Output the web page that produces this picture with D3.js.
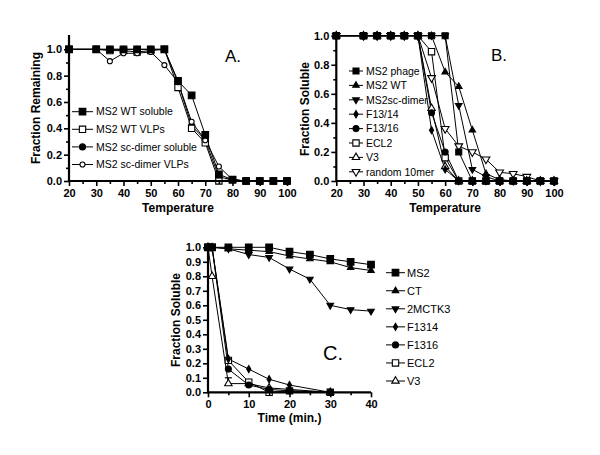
<!DOCTYPE html>
<html><head><meta charset="utf-8">
<script src="https://cdnjs.cloudflare.com/ajax/libs/d3/7.8.5/d3.min.js"></script>
<style>
html,body{margin:0;padding:0;background:#fff;}
svg{display:block;font-family:"Liberation Sans",Arial,sans-serif;}
</style></head>
<body>
<svg id="chart" width="600" height="455"></svg>
<script>
// ---------- Panel A data ----------
const tempA = [20,30,35,40,45,50,55,60,65,70,75,80,85,90,95,100];
const aWtSoluble = [1,1,1,1,1,1,1,0.76,0.65,0.35,0.05,0.01,0,0,0,0];
const aWtVLPs    = [1,1,0.99,0.99,0.98,0.99,1,0.71,0.40,0.29,0,0.01,0,0,0,0];
const aScSoluble = [1,1,1,1,1,1,1,0.75,0.42,0.31,0.03,0.01,0,0,0,0];
const aScVLPs    = [1,1,0.91,0.97,0.97,0.98,0.88,0.75,0.45,0.31,0.11,0.01,0,0,0,0];
const aNames = ["MS2 WT soluble","MS2 WT VLPs","MS2 sc-dimer soluble","MS2 sc-dimer VLPs"];
const aXTicks = [20,30,40,50,60,70,80,90,100];
const aYTicks = [0,0.2,0.4,0.6,0.8,1.0];

// ---------- Panel B data ----------
const tempB = [20,30,35,40,45,50,55,60,65,70,75,80,85,90,95,100];
const bPhage  = [1,1,1,1,1,1,1,1,0.2,0,0,0,0,0,0,0];
const bWT     = [1,1,1,1,1,1,1,0.75,0.65,0.35,0.05,0.01,0,0,0,0];
const bScDim  = [1,1,1,1,1,1,1,1,0.52,0.08,0.03,0,0,0,0,0];
const bF1314  = [1,1,1,1,1,1,0.35,0.08,0,0,0,0,0,0,0,0];
const bF1316  = [1,1,1,1,1,1,0.47,0.2,0,0,0,0,0,0,0,0];
const bECL2   = [1,1,1,1,1,1,0.89,0.16,0,0,0,0,0,0,0,0];
const bV3     = [1,1,1,1,1,1,0.5,0.1,0,0,0,0,0,0,0,0];
const bRandom = [1,1,1,1,1,1,0.71,0.36,0.24,0.2,0.15,0.06,0.05,0.03,0,0];
const bNames = ["MS2 phage","MS2 WT","MS2sc-dimer","F13/14","F13/16","ECL2","V3","random 10mer"];
const bXTicks = [20,30,40,50,60,70,80,90,100];
const bYTicks = [0,0.2,0.4,0.6,0.8,1.0];

// ---------- Panel C data ----------
const timeC  = [0,1,5,10,15,20,25,30,35,40];
const cMS2   = [1,1,1,1,1,0.97,0.95,0.92,0.90,0.88];
const cCT    = [1,1,0.99,0.98,0.97,0.94,0.92,0.90,0.86,0.84];
const c2MCTK3= [1,1,0.99,0.95,0.93,0.85,0.78,0.60,0.57,0.56];
const timeC2 = [0,1,5,10,15,20,30];
const cF1314 = [1,1,0.23,0.16,0.09,0.05,0];
const cF1316 = [1,1,0.16,0.05,0.02,0.01,0];
const cECL2  = [1,1,0.22,0.07,0.00,0.01,0];
const cV3    = [1,0.8,0.06,0.06,0.03,0.02,0];
const cV3Err = [0,0,0.04,0,0,0,0];
const cNames = ["MS2","CT","2MCTK3","F1314","F1316","ECL2","V3"];
const cXTicks = [0,10,20,30,40];
const cYTicks = [0,0.1,0.2,0.3,0.4,0.5,0.6,0.7,0.8,0.9,1.0];

const svg = d3.select("#chart");

// marker styles
const MK = {
  sqF:  {type:d3.symbolSquare, size:44, fill:"#000", rot:0},
  sqFs: {type:d3.symbolSquare, size:36, fill:"#000", rot:0},
  sqO:  {type:d3.symbolSquare, size:40, fill:"#fff", rot:0},
  cirF: {type:d3.symbolCircle, size:28, fill:"#000", rot:0},
  cirOs:{type:d3.symbolCircle, size:20, fill:"#fff", rot:0},
  triF: {type:d3.symbolTriangle, size:18, fill:"#000", rot:0},
  triO: {type:d3.symbolTriangle, size:24, fill:"#fff", rot:0},
  dtriF:{type:d3.symbolTriangle, size:19, fill:"#000", rot:180},
  dtriO:{type:d3.symbolTriangle, size:26, fill:"#fff", rot:180},
  dia:  {type:d3.symbolDiamond, size:15, fill:"#000", rot:0}
};

function drawMarker(g, m, cx, cy){
  g.append("path")
    .attr("d", d3.symbol().type(m.type).size(m.size)())
    .attr("transform", `translate(${cx},${cy}) rotate(${m.rot})`)
    .attr("fill", m.fill).attr("stroke", "#000").attr("stroke-width", 1.1);
}

function panel(cfg){
  const g = svg.append("g");
  const x = d3.scaleLinear().domain(cfg.xDomain).range(cfg.xRange);
  const y = d3.scaleLinear().domain([0,1]).range(cfg.yRange);
  const order = cfg.drawOrder || cfg.series.map((s,i)=>i);

  // series lines
  order.forEach(k=>{
    const s = cfg.series[k];
    const pts = s.xs.map((xv,i)=>[xv,s.ys[i]]).filter(p=>p[1]!=null);
    g.append("path").datum(pts)
      .attr("d", d3.line().x(d=>x(d[0])).y(d=>y(d[1])))
      .attr("fill","none").attr("stroke","#000").attr("stroke-width",1);
  });
  // error bars
  cfg.series.forEach(s=>{
    if(!s.err) return;
    s.xs.forEach((xv,i)=>{
      const e = s.err[i]; if(!e) return;
      const cx = x(xv);
      g.append("line").attr("x1",cx).attr("x2",cx).attr("y1",y(s.ys[i])).attr("y2",y(s.ys[i]+e)).attr("stroke","#000").attr("stroke-width",1);
      g.append("line").attr("x1",cx-3.5).attr("x2",cx+3.5).attr("y1",y(s.ys[i]+e)).attr("y2",y(s.ys[i]+e)).attr("stroke","#000").attr("stroke-width",1.2);
    });
  });
  // markers
  order.forEach(k=>{
    const s = cfg.series[k];
    s.xs.forEach((xv,i)=>{ if(s.ys[i]!=null) drawMarker(g, s.mk, x(xv), y(s.ys[i])); });
  });

  // axes
  const fmtY = d3.format(".1f");
  const xAx = g.append("g").attr("transform",`translate(0,${cfg.yRange[0]})`)
    .call(d3.axisBottom(x).tickValues(cfg.xTicks).tickSize(5).tickSizeOuter(0).tickPadding(3).tickFormat(d3.format("d")));
  const xMinor = g.append("g").attr("transform",`translate(0,${cfg.yRange[0]})`)
    .call(d3.axisBottom(x).tickValues(cfg.xMinor).tickSize(3).tickSizeOuter(0).tickFormat(""));
  const yAx = g.append("g").attr("transform",`translate(${cfg.xRange[0]},0)`)
    .call(d3.axisLeft(y).tickValues(cfg.yTicks).tickSize(5).tickSizeOuter(0).tickPadding(2).tickFormat(fmtY));
  const yMinor = g.append("g").attr("transform",`translate(${cfg.xRange[0]},0)`)
    .call(d3.axisLeft(y).tickValues(cfg.yMinor).tickSize(3).tickSizeOuter(0).tickFormat(""));
  [xAx,xMinor,yAx,yMinor].forEach(a=>{
    a.select(".domain").remove();
    a.selectAll("line").attr("stroke","#000").attr("stroke-width",1.6);
    a.selectAll("text").attr("font-family","Liberation Sans, Arial, sans-serif")
      .attr("font-size",cfg.tickFont).attr("font-weight","bold").attr("fill","#000");
  });
  // axis lines
  g.append("line").attr("x1",cfg.xRange[0]).attr("x2",cfg.xRange[1])
    .attr("y1",cfg.yRange[0]).attr("y2",cfg.yRange[0]).attr("stroke","#000").attr("stroke-width",2.2);
  g.append("line").attr("x1",cfg.xRange[0]).attr("x2",cfg.xRange[0])
    .attr("y1",cfg.yRange[0]+1).attr("y2",cfg.yTop).attr("stroke","#000").attr("stroke-width",2.2);

  // titles
  g.append("text").attr("x",(cfg.xRange[0]+cfg.xRange[1])/2).attr("y",cfg.xTitleY)
    .attr("text-anchor","middle").attr("font-size",12).attr("font-weight","bold").text(cfg.xTitle);
  g.append("text").attr("transform",`translate(${cfg.yTitleX},${cfg.yTitleY}) rotate(-90)`)
    .attr("text-anchor","middle").attr("dy","0.35em").attr("font-size",12).attr("font-weight","bold").text(cfg.yTitle);
  g.append("text").attr("x",cfg.labelX).attr("y",cfg.labelY).attr("font-size",cfg.labelSize).text(cfg.label);

  // legend
  cfg.series.forEach((s,i)=>{
    const ly = cfg.leg.y0 + i*cfg.leg.dy;
    g.append("line").attr("x1",cfg.leg.x1).attr("x2",cfg.leg.x2).attr("y1",ly).attr("y2",ly)
      .attr("stroke","#000").attr("stroke-width",1);
    drawMarker(g, s.mk, (cfg.leg.x1+cfg.leg.x2)/2, ly);
    g.append("text").attr("x",cfg.leg.tx).attr("y",ly).attr("dy","0.36em")
      .attr("font-size",cfg.leg.font).text(s.name);
  });
}

panel({
  xDomain:[20,100], xRange:[69,287], yRange:[181,49.3], yTop:35,
  xTicks:aXTicks, xMinor:[25,35,45,55,65,75,85,95],
  yTicks:aYTicks, yMinor:[0.1,0.3,0.5,0.7,0.9],
  tickFont:11, xTitle:"Temperature", xTitleY:212, yTitle:"Fraction Remaining", yTitleX:36, yTitleY:108,
  label:"A.", labelX:225, labelY:62, labelSize:17,
  leg:{y0:111.7, dy:17.6, x1:72, x2:93, tx:96, font:10.5},
  drawOrder:[2,1,3,0],
  series:[
    {name:aNames[0], xs:tempA, ys:aWtSoluble, mk:MK.sqF},
    {name:aNames[1], xs:tempA, ys:aWtVLPs, mk:MK.sqO},
    {name:aNames[2], xs:tempA, ys:aScSoluble, mk:MK.cirF},
    {name:aNames[3], xs:tempA, ys:aScVLPs, mk:MK.cirOs}
  ]
});

panel({
  xDomain:[20,100], xRange:[336.3,554], yRange:[181,35.7], yTop:33,
  xTicks:bXTicks, xMinor:[25,35,45,55,65,75,85,95],
  yTicks:bYTicks, yMinor:[0.1,0.3,0.5,0.7,0.9],
  tickFont:11, xTitle:"Temperature", xTitleY:212, yTitle:"Fraction Soluble", yTitleX:305, yTitleY:109,
  label:"B.", labelX:491, labelY:61, labelSize:17,
  leg:{y0:71, dy:14.4, x1:349, x2:363, tx:366, font:10.5},
  drawOrder:[7,6,5,4,3,2,1,0],
  series:[
    {name:bNames[0], xs:tempB, ys:bPhage, mk:MK.sqFs},
    {name:bNames[1], xs:tempB, ys:bWT, mk:MK.triF},
    {name:bNames[2], xs:tempB, ys:bScDim, mk:MK.dtriF},
    {name:bNames[3], xs:tempB, ys:bF1314, mk:MK.dia},
    {name:bNames[4], xs:tempB, ys:bF1316, mk:MK.cirF},
    {name:bNames[5], xs:tempB, ys:bECL2, mk:MK.sqO},
    {name:bNames[6], xs:tempB, ys:bV3, mk:MK.triO},
    {name:bNames[7], xs:tempB, ys:bRandom, mk:MK.dtriO}
  ]
});

panel({
  xDomain:[0,40], xRange:[208,371], yRange:[392.3,247.3], yTop:246,
  xTicks:cXTicks, xMinor:[5,15,25,35],
  yTicks:cYTicks, yMinor:[],
  tickFont:11, xTitle:"Time (min.)", xTitleY:422, yTitle:"Fraction Soluble", yTitleX:176, yTitleY:320,
  label:"C.", labelX:323, labelY:360, labelSize:20,
  leg:{y0:272.7, dy:18.05, x1:386, x2:405, tx:407, font:11},
  drawOrder:[6,5,4,3,2,1,0],
  series:[
    {name:cNames[0], xs:timeC, ys:cMS2, mk:MK.sqF},
    {name:cNames[1], xs:timeC, ys:cCT, mk:MK.triF},
    {name:cNames[2], xs:timeC, ys:c2MCTK3, mk:MK.dtriF},
    {name:cNames[3], xs:timeC2, ys:cF1314, mk:MK.dia},
    {name:cNames[4], xs:timeC2, ys:cF1316, mk:MK.cirF},
    {name:cNames[5], xs:timeC2, ys:cECL2, mk:MK.sqO},
    {name:cNames[6], xs:timeC2, ys:cV3, mk:MK.triO, err:cV3Err}
  ]
});
</script>
</body></html>
